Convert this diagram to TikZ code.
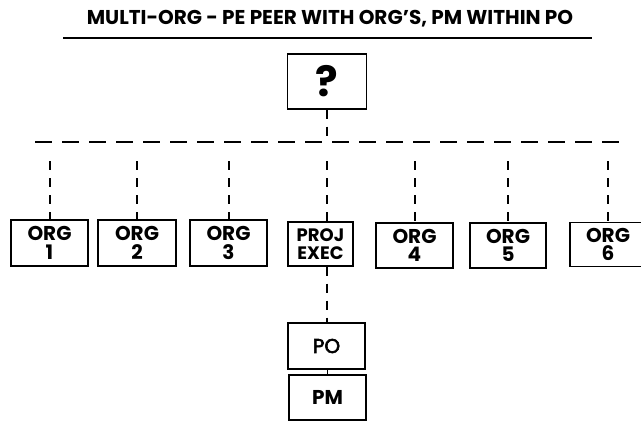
\documentclass[tikz,border=0pt]{standalone}
\usepackage{fontspec}
\setmainfont{Poppins}
\newfontfamily\popmid{Poppins}[FakeBold=3]
\begin{document}
\begin{tikzpicture}[x=1pt,y=-1pt,
  box/.style={draw,line width=1.2pt,inner sep=0pt,align=center,font=\fontsize{20}{18.5}\selectfont\bfseries},
  hdash/.style={line width=2pt,dash pattern=on 17pt off 10pt},
  vdash/.style={line width=2pt,dash pattern=on 9pt off 8pt}]
\useasboundingbox (0,0) rectangle (641,424);
\clip (0,0) rectangle (641,424);
% title
\node[font=\fontsize{20}{22}\selectfont\bfseries] (title) at (330,19) {MULTI-ORG - PE PEER WITH ORG'S, PM WITHIN PO};
\coordinate (ul) at (63,38);
\coordinate (ur) at (592,38);
\draw[line width=1.3pt] (ul) -- (ur);
% top box
\node[box,minimum width=79pt,minimum height=55pt,font=\fontsize{42}{42}\selectfont\bfseries] (q) at (327,81.5) {?};
% horizontal line
\coordinate (hl) at (35,142);
\coordinate (hr) at (625,142);
\draw[hdash] (hl) -- (hr);
\draw[vdash] (q.south) -- (q.south |- hl);
% row boxes
\node[box,minimum width=77pt,minimum height=46pt] (o1) at (49.5,243) {ORG\\1};
\node[box,minimum width=78pt,minimum height=46pt] (o2) at (137,243) {ORG\\2};
\node[box,minimum width=77pt,minimum height=46pt] (o3) at (228.5,243) {ORG\\3};
\node[box,minimum width=65pt,minimum height=44pt,font=\fontsize{18}{18}\selectfont\bfseries] (pe) at (320.5,244) {PROJ\\EXEC};
\node[box,minimum width=77pt,minimum height=45pt] (o4) at (414.5,245.5) {ORG\\4};
\node[box,minimum width=76pt,minimum height=45pt] (o5) at (508,245.5) {ORG\\5};
\node[box,minimum width=76pt,minimum height=44pt] (o6) at (608,244.5) {ORG\\6};
% drops
\coordinate (dt) at (0,161);
\draw[vdash] (o1.north |- dt) -- (o1.north);
\draw[vdash] (o2.north |- dt) -- (o2.north);
\draw[vdash] (o3.north |- dt) -- (o3.north);
\draw[vdash] (q.south |- dt) -- (q.south |- pe.north);
\draw[vdash] (o4.north |- dt) -- (o4.north);
\draw[vdash] (o5.north |- dt) -- (o5.north);
\draw[vdash] (o6.north |- dt) -- (o6.north);
% lower boxes
\node[box,minimum width=77pt,minimum height=46pt,font=\fontsize{20}{20}\popmid] (po) at (326.5,346) {PO};
\node[box,minimum width=77pt,minimum height=45pt,font=\fontsize{20}{20}\selectfont\bfseries] (pm) at (327.5,397.5) {PM};
\draw[vdash] (q.south |- pe.south) -- (q.south |- po.north);
\draw[line width=1pt] (po.south -| q.south) -- (pm.north -| q.south);
\end{tikzpicture}
\end{document}
